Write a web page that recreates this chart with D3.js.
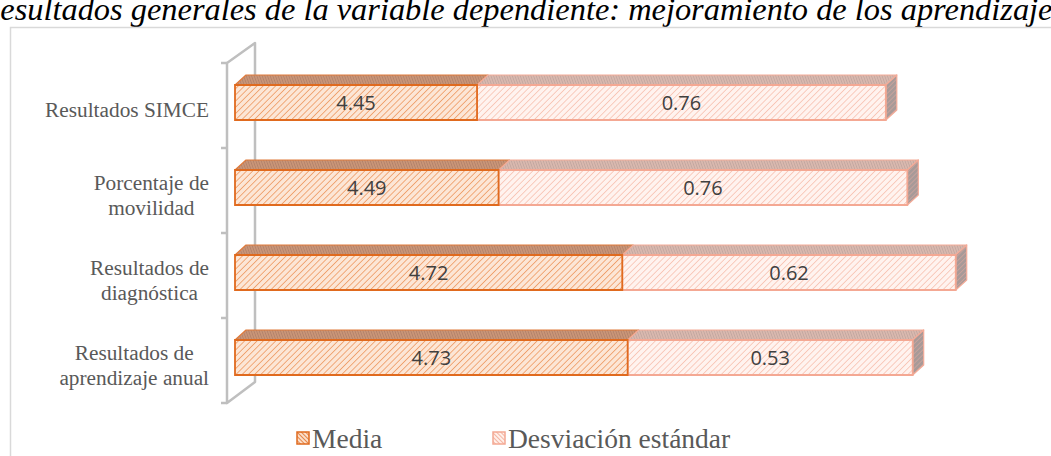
<!DOCTYPE html>
<html lang="es">
<head>
<meta charset="utf-8" />
<script src="https://d3js.org/d3.v7.min.js"></script>
<style>
  body { margin: 0; background: #fff; overflow: hidden; }
  svg { display: block; }
</style>
</head>
<body>
<div id="container"></div>
<script>
const titleText = 'Resultados generales de la variable dependiente: mejoramiento de los aprendizajes';
const categories = ['Resultados SIMCE', 'Porcentaje de\nmovilidad', 'Resultados de\ndiagnóstica', 'Resultados de\naprendizaje anual'];
const media = [4.45, 4.49, 4.72, 4.73];
const desviacion = [0.76, 0.76, 0.62, 0.53];
const seriesNames = ['Media', 'Desviación estándar'];

const width = 1051;
const height = 456;
const depthX = 11;
const depthY = -10;
const barH = 35;
const serif = '"Liberation Serif", "Times New Roman", serif';

const svg = d3.select('#container')
  .append('svg')
  .attr('width', width)
  .attr('height', height);

const defs = svg.append('defs');

// hatch patterns, roughly like the Excel "wide upward diagonal" fills
const hatch = (id, bg, line, size, lw, angle) => {
  const p = defs.append('pattern')
    .attr('id', id)
    .attr('patternUnits', 'userSpaceOnUse')
    .attr('width', size)
    .attr('height', size)
    .attr('patternTransform', `rotate(${angle})`);
  p.append('rect').attr('width', size).attr('height', size).attr('fill', bg);
  p.append('line')
    .attr('x1', 0).attr('y1', 0).attr('x2', 0).attr('y2', size)
    .attr('stroke', line).attr('stroke-width', lw);
};
hatch('mediaFront', '#fce6d6', '#ef9f6a', 4.4, 1.7, 45);
hatch('desvFront', '#fff3ef', '#f7bfae', 4.4, 1.5, 45);
hatch('mediaTop', '#c99577', '#a97a68', 2.5, 1.2, -20);
hatch('desvTop', '#d9b8ae', '#b9a09a', 2.5, 1.2, -20);
hatch('desvEnd', '#a89a98', '#e4aaa0', 3.5, 1.0, 45);
hatch('mediaSwatch', '#fbe0cc', '#e0702a', 3, 1.6, -45);
hatch('desvSwatch', '#fff0ea', '#f2a590', 3, 1.6, -45);

// title, cropped at the top/left edge as in the reference
svg.append('text')
  .attr('font-family', serif)
  .attr('font-style', 'italic')
  .attr('font-size', 32.4)
  .attr('fill', '#000')
  .attr('x', -19.5)
  .attr('y', 20)
  .text(titleText);

// chart area border
svg.append('rect')
  .attr('x', 10.5)
  .attr('y', 27.5)
  .attr('width', 1100)
  .attr('height', 500)
  .attr('fill', 'none')
  .attr('stroke', '#d9d9d9')
  .attr('stroke-width', 1.5);

const y = d3.scaleBand()
  .domain(categories)
  .range([60, 400])
  .paddingInner(0)
  .paddingOuter(0);

const x = d3.scaleLinear()
  .domain([4, 5.4])
  .range([235, 988]);

// 3D category wall
const wall = svg.append('g')
  .attr('fill', 'none')
  .attr('stroke', '#bfbfbf')
  .attr('stroke-width', 2.5);
const wy0 = y.range()[0] + 3;
const wy1 = y.range()[1] + 3;
const frontX = 227;
const backX = 255;
wall.append('path')
  .attr('d', `M${frontX},${wy0} L${backX},${wy0 - 20} L${backX},${wy1 - 21} L${frontX},${wy1} Z`)
  .attr('stroke-linejoin', 'round');
const tickYs = categories.map(c => y(c) + 3).concat([wy1]);
wall.selectAll('line.tick')
  .data(tickYs)
  .enter()
  .append('line')
  .attr('class', 'tick')
  .attr('x1', frontX - 6)
  .attr('x2', frontX)
  .attr('y1', d => d)
  .attr('y2', d => d);

// bars
const face = (x0, x1, yTop) => ({
  front: `M${x0},${yTop} H${x1} V${yTop + barH} H${x0} Z`,
  top: `M${x0},${yTop} L${x0 + depthX},${yTop + depthY} H${x1 + depthX} L${x1},${yTop} Z`,
  end: `M${x1},${yTop} L${x1 + depthX},${yTop + depthY} V${yTop + barH + depthY} L${x1},${yTop + barH} Z`
});

const bars = svg.append('g');
categories.forEach((c, i) => {
  const yc = y(c) + y.bandwidth() / 2;
  const yTop = yc - barH / 2;
  const x0 = x(4);
  const xm = x(media[i]);
  const xt = x(media[i] + desviacion[i]);
  const fm = face(x0, xm, yTop);
  const fd = face(xm, xt, yTop);

  bars.append('path').attr('d', fm.top).attr('fill', 'url(#mediaTop)')
    .attr('stroke', '#e07a3a').attr('stroke-width', 1.2).attr('stroke-linejoin', 'round');
  bars.append('path').attr('d', fd.top).attr('fill', 'url(#desvTop)')
    .attr('stroke', '#f3ab98').attr('stroke-width', 1.2).attr('stroke-linejoin', 'round');
  bars.append('path').attr('d', fd.end).attr('fill', 'url(#desvEnd)')
    .attr('stroke', '#f3ab98').attr('stroke-width', 1.2).attr('stroke-linejoin', 'round');
  bars.append('path').attr('d', fd.front).attr('fill', 'url(#desvFront)')
    .attr('stroke', '#f4a893').attr('stroke-width', 1.8);
  bars.append('path').attr('d', fm.front).attr('fill', 'url(#mediaFront)')
    .attr('stroke', '#e06a1e').attr('stroke-width', 1.8);

  bars.append('text')
    .attr('x', (x0 + xm) / 2)
    .attr('y', yc + 7.5)
    .attr('text-anchor', 'middle')
    .attr('font-family', '"Open Sans", sans-serif')
    .attr('font-size', 20)
    .attr('fill', '#404040')
    .text(media[i].toFixed(2));
  bars.append('text')
    .attr('x', (xm + xt) / 2)
    .attr('y', yc + 7.5)
    .attr('text-anchor', 'middle')
    .attr('font-family', '"Open Sans", sans-serif')
    .attr('font-size', 20)
    .attr('fill', '#404040')
    .text(desviacion[i].toFixed(2));
});

// category labels: lines centred, block right aligned
const labelRight = 209;
const lineH = 25;
categories.forEach(c => {
  const lines = c.split('\n');
  const center = y(c) + y.bandwidth() / 2 + 7.5;
  const g = svg.append('g');
  const texts = lines.map((t, j) => g.append('text')
    .attr('y', center - (lines.length - 1) * lineH / 2 + j * lineH + 7)
    .attr('text-anchor', 'middle')
    .attr('font-family', serif)
    .attr('font-size', 21.3)
    .attr('fill', '#595959')
    .text(t));
  const maxW = d3.max(texts, t => t.node().getComputedTextLength());
  texts.forEach(t => t.attr('x', labelRight - maxW / 2));
});

// legend
const legendX = [297, 493];
const swatches = ['url(#mediaSwatch)', 'url(#desvSwatch)'];
const swatchStroke = ['#e06a1e', '#f4a893'];
seriesNames.forEach((name, i) => {
  svg.append('rect')
    .attr('x', legendX[i])
    .attr('y', 432)
    .attr('width', 12)
    .attr('height', 12)
    .attr('fill', swatches[i])
    .attr('stroke', swatchStroke[i])
    .attr('stroke-width', 1.5);
  svg.append('text')
    .attr('x', legendX[i] + 15)
    .attr('y', 448)
    .attr('font-family', serif)
    .attr('font-size', 27.5)
    .attr('fill', '#595959')
    .text(name);
});
</script>
</body>
</html>
